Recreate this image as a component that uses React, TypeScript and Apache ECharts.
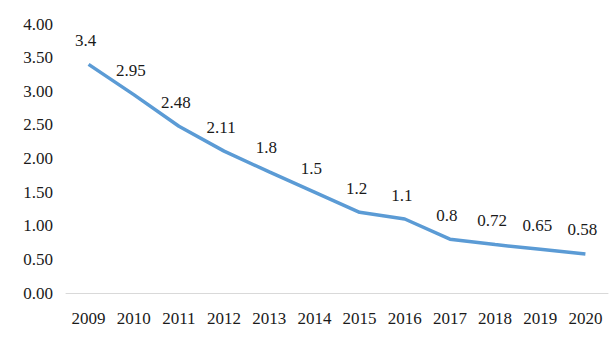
import React, { useEffect, useRef } from "react";
import * as echarts from "echarts";

const years = ["2009", "2010", "2011", "2012", "2013", "2014", "2015", "2016", "2017", "2018", "2019", "2020"];
const values = [3.4, 2.95, 2.48, 2.11, 1.8, 1.5, 1.2, 1.1, 0.8, 0.72, 0.65, 0.58];

export default function App() {
  const ref = useRef<HTMLDivElement>(null);
  useEffect(() => {
    const chart = echarts.init(ref.current!, null, { renderer: "svg" });
    const font = "Liberation Serif";
    chart.setOption({
      animation: false,
      textStyle: { fontFamily: font },
      grid: { left: 66, right: 4, top: 24, bottom: 49 },
      xAxis: {
        type: "category",
        data: years,
        boundaryGap: true,
        axisLine: { lineStyle: { color: "#d9d9d9", width: 1 } },
        axisTick: { show: false },
        axisLabel: { color: "#1a1a1a", fontFamily: font, fontSize: 17, margin: 17 },
      },
      yAxis: {
        type: "value",
        min: 0,
        max: 4,
        interval: 0.5,
        splitLine: { show: false },
        axisLine: { show: false },
        axisTick: { show: false },
        axisLabel: {
          color: "#1a1a1a",
          fontFamily: font,
          fontSize: 17,
          margin: 13,
          formatter: (v: number) => v.toFixed(2),
        },
      },
      series: [
        {
          type: "line",
          data: values,
          symbol: "circle",
          symbolSize: 1,
          showSymbol: true,
          itemStyle: { color: "rgba(91,155,213,0)", borderWidth: 0 },
          lineStyle: { color: "#5B9BD5", width: 3.5 },
          label: {
            show: true,
            position: "top",
            distance: 15,
            offset: [-3, 0],
            color: "#1a1a1a",
            fontFamily: font,
            fontSize: 17,
          },
        },
      ],
    });
    return () => chart.dispose();
  }, []);
  return <div ref={ref} style={{ width: 612, height: 342, position: "absolute", left: 0, top: 0 }} />;
}
